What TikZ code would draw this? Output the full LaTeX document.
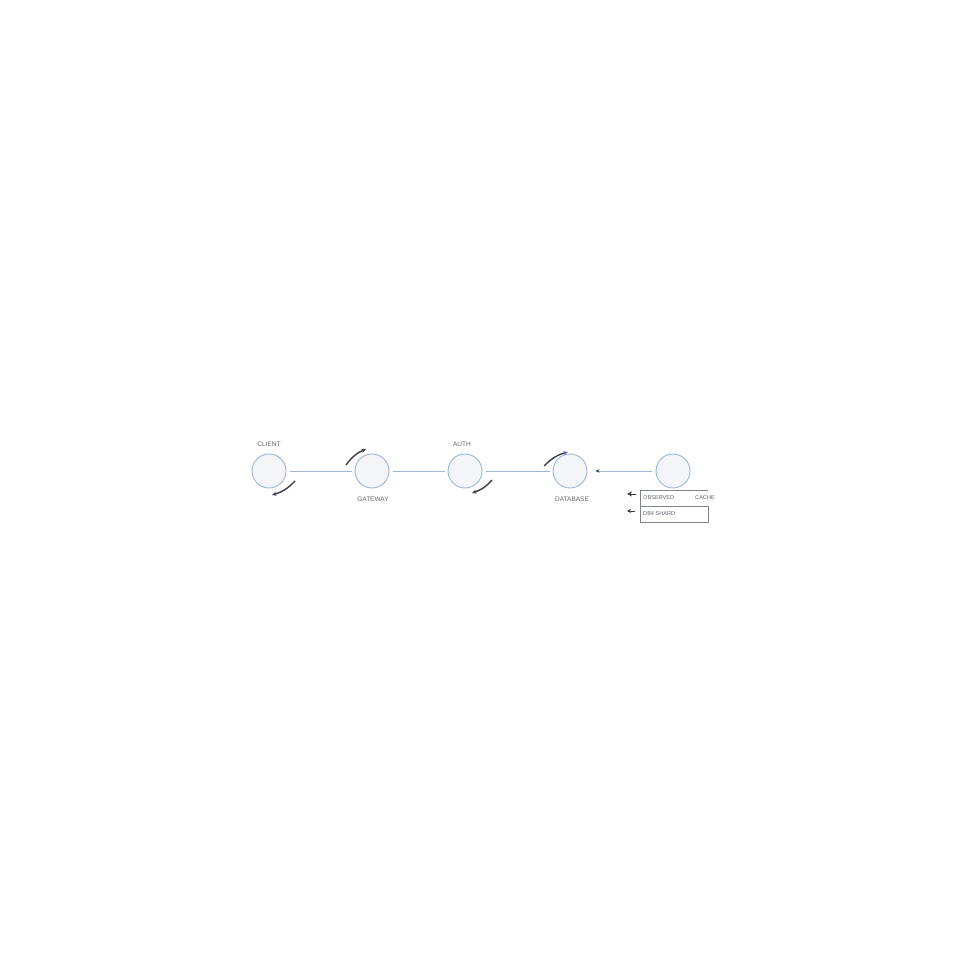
\documentclass[tikz,border=0pt]{standalone}
\usepackage{fontspec}
\setmainfont{Liberation Sans}
\usetikzlibrary{arrows.meta}
\definecolor{ringc}{HTML}{9DB4D6}
\definecolor{fillc}{HTML}{F3F5F9}
\definecolor{linec}{HTML}{9FB3D6}
\definecolor{txtc}{HTML}{62666F}
\definecolor{markc}{HTML}{3A3F48}
\begin{document}
\begin{tikzpicture}[x=1pt,y=1pt,
  svc/.style={circle,draw=ringc,fill=fillc,line width=0.9pt,minimum size=34pt,inner sep=0pt},
  lbl/.style={text=txtc,font=\fontsize{6.5}{7}\selectfont,inner sep=1pt},
  link/.style={draw=linec,line width=0.8pt,shorten <=4pt,shorten >=3pt},
  loopmark/.style={draw=markc,line width=1.4pt,-{Stealth[length=4.5pt,width=4pt]}},
  legtxt/.style={text=txtc,font=\fontsize{5.6}{6}\selectfont,inner sep=0pt,anchor=west}]
\useasboundingbox (0,0) rectangle (960,960);
\fill[white] (0,0) rectangle (960,960);
% services
\node[svc] (c1) at (269,489) {};
\node[svc] (c2) at (372,489) {};
\node[svc] (c3) at (465,489) {};
\node[svc] (c4) at (570,489) {};
\node[svc] (c5) at (673,489) {};
% labels
\node[lbl] (l1) at (269,516) {CLIENT};
\node[lbl] (l2) at (373,461) {GATEWAY};
\node[lbl] (l3) at (462,516) {AUTH};
\node[lbl] (l4) at (572,461) {DATABASE};
% links
\draw[link] (c1) -- (c2);
\draw[link] (c2) -- (c3);
\draw[link] (c3) -- (c4);
\draw[link,shorten >=8pt,-{Stealth[length=4pt,width=3.5pt,color=markc]}] (c5) -- (c4);
% curved marks
\coordinate (a1s) at (295,479); \coordinate (a1e) at (272,465);
\coordinate (a2s) at (346,495); \coordinate (a2e) at (366,511);
\coordinate (a3s) at (492,480); \coordinate (a3e) at (472,467);
\coordinate (a4s) at (544,494); \coordinate (a4e) at (568,508);
\draw[loopmark] (a1s) to[bend left=15] (a1e);
\draw[loopmark] (a2s) to[bend left=15] (a2e);
\draw[loopmark] (a3s) to[bend left=15] (a3e);
\draw[loopmark,-{Stealth[length=4.5pt,width=4pt,color=ringc!60!blue]}] (a4s) to[bend left=15] (a4e);
% legend
\coordinate (lgA) at (640,470);
\coordinate (lgB) at (708,470);
\node[draw=txtc!80,line width=0.6pt,minimum width=68pt,minimum height=16pt,inner sep=0pt,anchor=north west] (lgbox) at (640,454) {};
\draw[draw=txtc!80,line width=0.6pt] (lgbox.north west) -- (lgA) -- (lgB);
\node[legtxt] (t1) at (643,462) {OBSERVED};
\node[legtxt] (t2) at (695,462) {CACHE};
\node[legtxt] (t3) at (643,446) {DB4 SHARD};
\coordinate (k1s) at (636,466); \coordinate (k1e) at (627,466);
\coordinate (k2s) at (635,449); \coordinate (k2e) at (627,449);
\draw[markc,line width=0.7pt,-{Stealth[length=5pt,width=5pt]}] (k1s) -- (k1e);
\draw[markc,line width=0.7pt,-{Stealth[length=4pt,width=4pt]}] (k2s) -- (k2e);
\end{tikzpicture}
\end{document}
